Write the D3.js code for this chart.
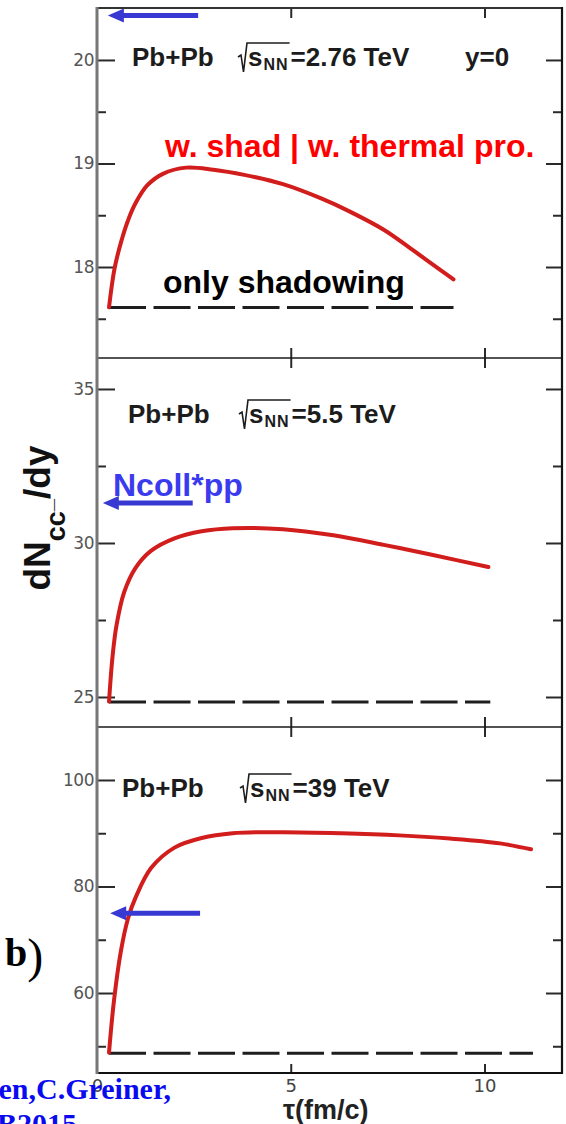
<!DOCTYPE html>
<html>
<head>
<meta charset="utf-8">
<script src="https://cdn.jsdelivr.net/npm/d3@7"></script>
<style>
  body { margin: 0; background: #fff; }
  svg { display: block; }
</style>
</head>
<body>
<script>
// ---- data ----
const tauTicks = [0, 5, 10];

// panel 1: sqrt(s_NN) = 2.76 TeV
const p1Tau     = [0.31, 0.45, 0.62, 0.8, 1.0, 1.3, 1.7, 2.3, 3.0, 3.8, 4.8, 5.8, 6.5, 7.4, 8.2, 9.2];
const p1Thermal = [17.61, 17.98, 18.24, 18.45, 18.62, 18.79, 18.90, 18.96, 18.94, 18.89, 18.80, 18.66, 18.54, 18.36, 18.15, 17.88];
const p1ShadowTau = [0.31, 9.2];
const p1Shadow  = 17.61;
const p1Ncoll   = 20.43;
const p1NcollTau = [0.28, 2.61];
const p1Major = [18, 19, 20];
const p1Minor = [17.5, 18.5, 19.5];

// panel 2: sqrt(s_NN) = 5.5 TeV
const p2Tau     = [0.31, 0.4, 0.5, 0.7, 1.0, 1.4, 2.0, 2.7, 3.5, 4.8, 6.1, 7.4, 8.7, 10.1];
const p2Thermal = [24.85, 26.3, 27.3, 28.4, 29.2, 29.75, 30.15, 30.38, 30.48, 30.45, 30.25, 29.94, 29.6, 29.22];
const p2ShadowTau = [0.31, 10.15];
const p2Shadow  = 24.84;
const p2Ncoll   = 31.3;
const p2NcollTau = [0.15, 2.47];
const p2Major = [25, 30, 35];
const p2Minor = [27.5, 32.5];

// panel 3: sqrt(s_NN) = 39 TeV
const p3Tau     = [0.31, 0.44, 0.62, 0.8, 1.0, 1.4, 2.0, 2.7, 3.5, 4.8, 6.3, 7.8, 9.1, 10.4, 11.2];
const p3Thermal = [48.8, 58.7, 68.0, 74.0, 78.0, 83.5, 87.3, 89.1, 90.0, 90.2, 90.0, 89.6, 89.0, 88.1, 87.0];
const p3ShadowTau = [0.31, 11.25];
const p3Shadow  = 48.7;
const p3Ncoll   = 75.0;
const p3NcollTau = [0.34, 2.66];
const p3Major = [60, 80, 100];
const p3Minor = [50, 70, 90];

const energies = ["2.76", "5.5", "39"];

// ---- layout ----
const W = 566, H = 1124;
const left = 97, right = 562;
const SANS = "'Liberation Sans', Arial, sans-serif";
const TICKFONT = "'DejaVu Sans', sans-serif";
const SERIF = "'Liberation Serif', 'Times New Roman', serif";

const svg = d3.select("body").append("svg").attr("width", W).attr("height", H);

const x = d3.scaleLinear().domain([0, 12]).range([left, right]);

const panels = [
  { top: 8,   bottom: 358,  domain: [17.121, 20.502], tau: p1Tau, val: p1Thermal, shTau: p1ShadowTau, sh: p1Shadow,
    ncoll: p1Ncoll, ncTau: p1NcollTau, major: p1Major, minor: p1Minor, energy: energies[0],
    head: { x: 132, y: 66, rad: 238 } },
  { top: 358, bottom: 727,  domain: [24.026, 36.006], tau: p2Tau, val: p2Thermal, shTau: p2ShadowTau, sh: p2Shadow,
    ncoll: p2Ncoll, ncTau: p2NcollTau, major: p2Major, minor: p2Minor, energy: energies[1],
    head: { x: 128, y: 423, rad: 239 } },
  { top: 727, bottom: 1073, domain: [44.98, 109.95], tau: p3Tau, val: p3Thermal, shTau: p3ShadowTau, sh: p3Shadow,
    ncoll: p3Ncoll, ncTau: p3NcollTau, major: p3Major, minor: p3Minor, energy: energies[2],
    head: { x: 122, y: 797, rad: 240 } }
];

const tickColor = "#2a2a2a";

function styleAxis(g, width) {
  g.select(".domain").remove();
  g.selectAll(".tick line").attr("stroke", tickColor).attr("stroke-width", width);
}

panels.forEach((p, i) => {
  const y = d3.scaleLinear().domain(p.domain).range([p.bottom, p.top]);
  const g = svg.append("g");

  // left ticks with labels
  g.append("g").attr("transform", `translate(${left},0)`)
    .call(d3.axisLeft(y).tickValues(p.major).tickSize(-18).tickPadding(3).tickFormat(d3.format("d")))
    .call(a => styleAxis(a, 2))
    .call(a => a.selectAll("text").attr("font-family", TICKFONT).attr("font-size", 17)
      .attr("fill", "#555").attr("letter-spacing", -0.5));
  g.append("g").attr("transform", `translate(${left},0)`)
    .call(d3.axisLeft(y).tickValues(p.minor).tickSize(-9).tickFormat(""))
    .call(a => styleAxis(a, 2));

  // right ticks
  g.append("g").attr("transform", `translate(${right},0)`)
    .call(d3.axisRight(y).tickValues(p.major).tickSize(-16).tickFormat(""))
    .call(a => styleAxis(a, 2));
  g.append("g").attr("transform", `translate(${right},0)`)
    .call(d3.axisRight(y).tickValues(p.minor).tickSize(-9).tickFormat(""))
    .call(a => styleAxis(a, 2));

  // shadowing only (dashed)
  const straight = d3.line().x(d => x(d[0])).y(d => y(d[1]));
  g.append("path")
    .datum(p.shTau.map(t => [t, p.sh]))
    .attr("d", straight)
    .attr("fill", "none").attr("stroke", "#1e1e1e").attr("stroke-width", 3)
    .attr("stroke-dasharray", "37,7.5");

  // shadowing + thermal production
  const smooth = d3.line().x(d => x(d[0])).y(d => y(d[1])).curve(d3.curveCatmullRom.alpha(0.5));
  g.append("path")
    .datum(p.tau.map((t, k) => [t, p.val[k]]))
    .attr("d", smooth)
    .attr("fill", "none").attr("stroke", "#d21d1d").attr("stroke-width", 4)
    .attr("stroke-linecap", "round").attr("stroke-linejoin", "round");

  // Ncoll * pp arrow
  const ay = y(p.ncoll);
  const tip = x(p.ncTau[0]), tail = x(p.ncTau[1]);
  g.append("line").attr("x1", tip + 12).attr("x2", tail).attr("y1", ay).attr("y2", ay)
    .attr("stroke", "#3838d2").attr("stroke-width", 5);
  g.append("path")
    .attr("d", `M${tip},${ay}L${tip + 16},${ay - 7}L${tip + 16},${ay + 7}Z`)
    .attr("fill", "#3838d2");

  // header: Pb+Pb  sqrt(s_NN)=... TeV
  const h = p.head;
  g.append("text").attr("x", h.x).attr("y", h.y)
    .attr("font-family", SANS).attr("font-weight", "bold").attr("font-size", 26).attr("fill", "#1c1c1c")
    .text("Pb+Pb");
  const sx = h.rad + 10;
  const sText = g.append("text").attr("x", sx).attr("y", h.y)
    .attr("font-family", SANS).attr("font-weight", "bold").attr("font-size", 26).attr("fill", "#1c1c1c");
  sText.append("tspan").text("s");
  sText.append("tspan").attr("font-size", 16).attr("dy", 4).attr("dx", 1).attr("letter-spacing", 1).text("NN");
  const sw = sText.node().getComputedTextLength() + 2;
  g.append("path")
    .attr("d", `M${h.rad},${h.y - 9}L${h.rad + 3},${h.y - 11}L${h.rad + 5.5},${h.y + 6}L${h.rad + 9},${h.y - 23}H${sx + sw}`)
    .attr("fill", "none").attr("stroke", "#1c1c1c").attr("stroke-width", 1.6);
  g.append("text").attr("x", sx + sw + 1).attr("y", h.y)
    .attr("font-family", SANS).attr("font-weight", "bold").attr("font-size", 26).attr("fill", "#1c1c1c")
    .text(`=${p.energy} TeV`);
  if (i === 0) {
    g.append("text").attr("x", 465).attr("y", h.y)
      .attr("font-family", SANS).attr("font-weight", "bold").attr("font-size", 26).attr("fill", "#1c1c1c")
      .text("y=0");
  }
});

// tau ticks on the panel borders
svg.append("g").attr("transform", `translate(0,${panels[0].top})`)
  .call(d3.axisTop(x).tickValues([5, 10]).tickSize(-10).tickFormat(""))
  .call(a => styleAxis(a, 2));
[358, 727].forEach(yy => {
  svg.append("g").attr("transform", `translate(0,${yy})`)
    .call(d3.axisBottom(x).tickValues([5, 10]).tickSize(10).tickFormat(""))
    .call(a => styleAxis(a, 2));
  svg.append("g").attr("transform", `translate(0,${yy})`)
    .call(d3.axisTop(x).tickValues([5, 10]).tickSize(10).tickFormat(""))
    .call(a => styleAxis(a, 2));
});
svg.append("g").attr("transform", `translate(0,1073)`)
  .call(d3.axisBottom(x).tickValues(tauTicks).tickSize(-9).tickPadding(6).tickFormat(d3.format("d")))
  .call(a => styleAxis(a, 2))
  .call(a => a.selectAll(".tick").filter(d => d === 0).select("line").remove())
  .call(a => a.selectAll("text").attr("font-family", TICKFONT).attr("font-size", 18).attr("fill", "#444"));

// frame
svg.append("line").attr("x1", left).attr("x2", right).attr("y1", 8).attr("y2", 8)
  .attr("stroke", "#333").attr("stroke-width", 2);
[358, 727].forEach(yy => svg.append("line").attr("x1", left).attr("x2", right).attr("y1", yy).attr("y2", yy)
  .attr("stroke", "#1a1a1a").attr("stroke-width", 1.6));
svg.append("line").attr("x1", left).attr("x2", right).attr("y1", 1073).attr("y2", 1073)
  .attr("stroke", "#111").attr("stroke-width", 2);
svg.append("line").attr("x1", right).attr("x2", right).attr("y1", 7).attr("y2", 1074)
  .attr("stroke", "#111").attr("stroke-width", 2.2);
svg.append("line").attr("x1", left).attr("x2", left).attr("y1", 7).attr("y2", 1074)
  .attr("stroke", "#777").attr("stroke-width", 3);

// annotations
svg.append("text").attr("x", 165).attr("y", 157)
  .attr("font-family", SANS).attr("font-weight", "bold").attr("font-size", 32).attr("fill", "#ff0000")
  .text("w. shad | w. thermal pro.");
svg.append("text").attr("x", 163).attr("y", 293)
  .attr("font-family", SANS).attr("font-weight", "bold").attr("font-size", 32).attr("fill", "#000")
  .text("only shadowing");
svg.append("text").attr("x", 113).attr("y", 496)
  .attr("font-family", SANS).attr("font-weight", "bold").attr("font-size", 32).attr("fill", "#3a3aee")
  .text("Ncoll*pp");

// y label
const yl = svg.append("text").attr("transform", "translate(50,518) rotate(-90)")
  .attr("text-anchor", "middle")
  .attr("font-family", SANS).attr("font-weight", "bold").attr("font-size", 37).attr("fill", "#111");
yl.append("tspan").text("dN");
yl.append("tspan").attr("font-size", 27).attr("dy", 15).text("cc");
yl.append("tspan").attr("font-size", 22).attr("dy", -13).text("_");
yl.append("tspan").attr("dy", -2).text("/dy");

// x label
svg.append("text").attr("x", 283).attr("y", 1119)
  .attr("font-family", SANS).attr("font-weight", "bold").attr("font-size", 27).attr("fill", "#222")
  .text("τ(fm/c)");

// panel tag
const tag = svg.append("text").attr("x", 5).attr("y", 966).attr("font-family", SERIF).attr("fill", "#000");
tag.append("tspan").attr("font-weight", "bold").attr("font-size", 40).text("b");
tag.append("tspan").attr("font-size", 48).attr("dy", 6).text(")");

// reference text in the lower left
svg.append("text").attr("x", 171).attr("y", 1099).attr("text-anchor", "end")
  .attr("font-family", SERIF).attr("font-weight", "bold").attr("font-size", 30).attr("fill", "#0a0af0")
  .text("en,C.Greiner,");
svg.append("text").attr("x", -3).attr("y", 1134)
  .attr("font-family", SERIF).attr("font-weight", "bold").attr("font-size", 30).attr("fill", "#0a0af0")
  .text("B2015");
</script>
</body>
</html>
